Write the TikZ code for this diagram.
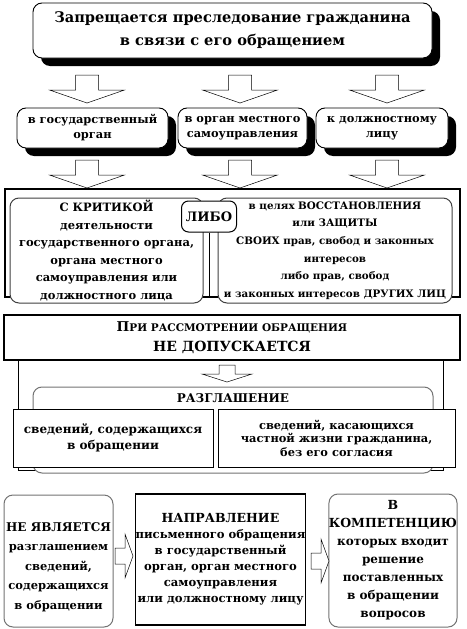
\documentclass[tikz,border=0pt]{standalone}
\usepackage{fontspec}
\setmainfont{DejaVu Serif}
\usetikzlibrary{positioning,shadows}

\tikzset{
  sbox/.style={draw, line width=0.9pt, rounded corners=9pt, fill=white, align=center, inner sep=0pt,
    drop shadow={shadow xshift=8pt, shadow yshift=-8pt, fill=black, opacity=1}},
  rbox/.style={draw=black!55, line width=1pt, rounded corners=9pt, fill=white, align=center, inner sep=0pt},
  pbox/.style={draw, line width=0.9pt, fill=white, align=center, inner sep=0pt},
  hollow/.style={draw, line width=0.5pt, fill=white},
  pics/bigdown/.style={code={
    \draw[hollow] (-11.5,-28) -- (11.5,-28) -- (11.5,-13) -- (37.5,-13) -- (0,0)
      -- (-37.5,-13) -- (-11.5,-13) -- cycle;}},
  pics/smalldown/.style={code={
    \draw[hollow] (-8,-17) -- (8,-17) -- (8,-8) -- (25,-8) -- (0,0)
      -- (-25,-8) -- (-8,-8) -- cycle;}},
  pics/rightarr/.style={code={
    \draw[hollow] (-18,-8) -- (-8,-8) -- (-8,-22) -- (0,0) -- (-8,22)
      -- (-8,8) -- (-18,8) -- cycle;}}
}

\begin{document}
\begin{tikzpicture}[x=1pt, y=-1pt, line join=miter]
  \useasboundingbox (0,0) rectangle (466,629);

  \node[sbox, minimum width=399pt, minimum height=55pt,
    font=\fontsize{14.6}{23}\selectfont\bfseries] (top) at (232.5,30.5)
    {Запрещается преследование гражданина\\в связи с его обращением};

  \pic at (87,103) {bigdown};
  \pic at (240,103) {bigdown};
  \pic at (387,103) {bigdown};

  \node[sbox, minimum width=151pt, minimum height=40pt,
    font=\fontsize{11.4}{15}\selectfont\bfseries] (gos) at (92.5,128)
    {в государственный\\орган};
  \node[sbox, minimum width=129pt, minimum height=40pt,
    font=\fontsize{11.4}{15}\selectfont\bfseries] (mest) at (242.5,128)
    {в орган местного\\самоуправления};
  \node[sbox, minimum width=132pt, minimum height=40pt,
    font=\fontsize{11.4}{15}\selectfont\bfseries] (dolzh) at (382,128)
    {к должностному\\лицу};

  \pic at (87,188) {bigdown};
  \pic at (240,188) {bigdown};
  \pic at (387,188) {bigdown};

  \node[draw, line width=1.2pt, minimum width=455pt, minimum height=108pt] (frame) at (232.5,243) {};
  \node[rbox, draw=black!75, minimum width=193pt, minimum height=105pt,
    font=\fontsize{11.5}{17.6}\selectfont\bfseries] (krit) at (106.5,250.5)
    {С КРИТИКОЙ\\деятельности\\государственного органа,\\органа местного\\самоуправления или\\должностного лица};
  \node[rbox, draw=black!75, minimum width=234pt, minimum height=105pt,
    font=\fontsize{10.3}{17.6}\selectfont\bfseries] (zasch) at (335,250.5)
    {в целях ВОССТАНОВЛЕНИЯ\\или ЗАЩИТЫ\\СВОИХ прав, свобод и законных\\интересов\\либо прав, свобод\\и законных интересов ДРУГИХ ЛИЦ};
  \node[rbox, draw=black, rounded corners=7pt, minimum width=55pt, minimum height=31pt,
    font=\fontsize{13}{15}\selectfont\bfseries] (libo) at (209,216.5) {ЛИБО};
  \draw[line width=0.9pt] (libo.south) -- (libo.south |- frame.south);

  \draw[line width=1pt] (18,360) rectangle (443,470);
  \node[pbox, line width=1.1pt, minimum width=456pt, minimum height=45pt,
    font=\fontsize{10}{20}\selectfont\bfseries] (rassm) at (232,337.5)
    {{\fontsize{13.5}{20}\selectfont П}{\fontsize{10.5}{20}\selectfont РИ РАССМОТРЕНИИ ОБРАЩЕНИЯ}\\
     {\fontsize{14}{20}\selectfont НЕ ДОПУСКАЕТСЯ}};
  \pic at (227,382) {smalldown};

  \node[rbox, minimum width=400pt, minimum height=86pt] (razgl) at (233,430) {};
  \node[font=\fontsize{12}{15}\selectfont\bfseries, inner sep=0pt] (razgltxt) at (233,398) {РАЗГЛАШЕНИЕ};
  \node[pbox, minimum width=200pt, minimum height=58pt,
    font=\fontsize{12}{16}\selectfont\bfseries] (sodr) at (113,438)
    {сведений, содержащихся\\в обращении};
  \node[pbox, minimum width=237pt, minimum height=58pt,
    font=\fontsize{11.4}{13.5}\selectfont\bfseries] (chast) at (336.5,438)
    {сведений, касающихся\\частной жизни гражданина,\\без его согласия};

  \node[rbox, minimum width=109pt, minimum height=132pt,
    font=\fontsize{11.5}{19.5}\selectfont\bfseries] (neyav) at (58.5,561)
    {{\fontsize{12}{19.5}\selectfont\rule{0pt}{21pt}НЕ ЯВЛЯЕТСЯ}\\разглашением\\сведений,\\содержащихся\\в обращении};
  \node[pbox, line width=1.1pt, minimum width=169pt, minimum height=131pt,
    font=\fontsize{11.6}{16}\selectfont\bfseries] (napr) at (220.5,559.5)
    {{\fontsize{12.5}{16}\selectfont НАПРАВЛЕНИЕ}\\письменного обращения\\в государственный\\орган, орган местного\\самоуправления\\или должностному лицу};
  \node[rbox, minimum width=124pt, minimum height=133pt,
    font=\fontsize{12}{18}\selectfont\bfseries] (komp) at (393,560.5)
    {{\fontsize{12.5}{18}\selectfont В}\\{\fontsize{12.5}{18}\selectfont КОМПЕТЕНЦИЮ}\\которых входит\\решение\\поставленных\\в обращении\\вопросов};

  \pic at (133,556) {rightarr};
  \pic at (329,561) {rightarr};
\end{tikzpicture}
\end{document}
